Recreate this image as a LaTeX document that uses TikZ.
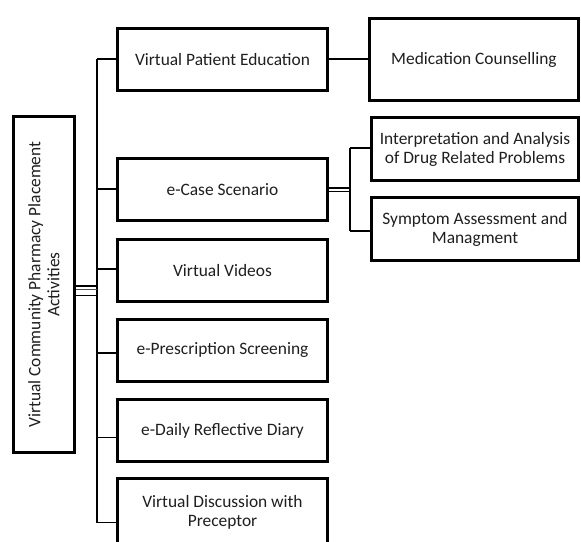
\documentclass[tikz,border=0pt]{standalone}
\usepackage{fontspec}
\setmainfont{Carlito}
\begin{document}
\begin{tikzpicture}[x=1pt,y=-1pt,
  box/.style={draw=black, line width=3pt, fill=white, align=center, inner sep=2pt,
    font=\fontsize{17.4}{19}\selectfont, text=black!88},
  midbox/.style={box, minimum width=210pt, minimum height=62pt},
  rightbox/.style={box, minimum width=207pt, minimum height=63pt},
  link/.style={draw=black, line width=1.4pt},
  thinlink/.style={draw=black!70, line width=0.8pt}]
\useasboundingbox (0,0) rectangle (581,541);

% root of the tree, written upwards
\node[box, rotate=90, minimum width=336pt, minimum height=61pt] (root) at (44,284.5)
  {Virtual Community Pharmacy Placement\\Activities};

% activity boxes
\node[midbox] (m1) at (222.5,59.5) {Virtual Patient Education};
\node[midbox] (m2) at (222.5,189.5) {e-Case Scenario};
\node[midbox] (m3) at (222.5,270.5) {Virtual Videos};
\node[midbox] (m4) at (222.5,350) {e-Prescription Screening};
\node[midbox] (m5) at (222.5,430.5) {e-Daily Reflective Diary};
\node[midbox, minimum height=67.5pt] (m6) at (222.5,512.25) {Virtual Discussion with\\Preceptor};

% sub-activities
\node[box, minimum width=209pt, minimum height=82pt] (r1) at (474,59.5) {Medication Counselling};
\node[rightbox] (r2) at (475,149) {Interpretation and Analysis\\of Drug Related Problems};
\node[rightbox] (r3) at (475,229) {Symptom Assessment and\\Managment};

% vertical bus joints
\coordinate (j1) at (97,59);
\coordinate (j2) at (97,189);
\coordinate (j3) at (97,269);
\coordinate (j4) at (97,353);
\coordinate (j5) at (97,437.5);
\coordinate (j6) at (97,522.5);
\coordinate (ja) at (97,286);
\coordinate (jb) at (97,289.5);
\coordinate (jc) at (97,295.5);

\draw[link] (j1) -- (j6);
\foreach \j/\m in {j1/m1,j2/m2,j3/m3,j4/m4,j5/m5,j6/m6}
  \draw[link] (\j) -- (\j -| \m.west);

% root to bus
\draw[link] (root.south |- ja) -- (ja);
\draw[thinlink] (root.south |- jb) -- (jb);
\draw[link] (root.south |- jc) -- (jc);

% Virtual Patient Education to Medication Counselling
\draw[link] (m1.east |- j1) -- (r1.west |- j1);

% e-Case Scenario fork
\coordinate (k0) at (350,188);
\coordinate (k1) at (350,191.5);
\coordinate (ka) at (350,148);
\coordinate (kb) at (350,231);
\draw[link] (m2.east |- k0) -- (k0);
\draw[link, line width=1.1pt] (m2.east |- k1) -- (k1);
\draw[link, line width=1.1pt] (ka) -- (kb);
\draw[link, line width=1.1pt] (ka) -- (ka -| r2.west);
\draw[link, line width=1.1pt] (kb) -- (kb -| r3.west);
\end{tikzpicture}
\end{document}
